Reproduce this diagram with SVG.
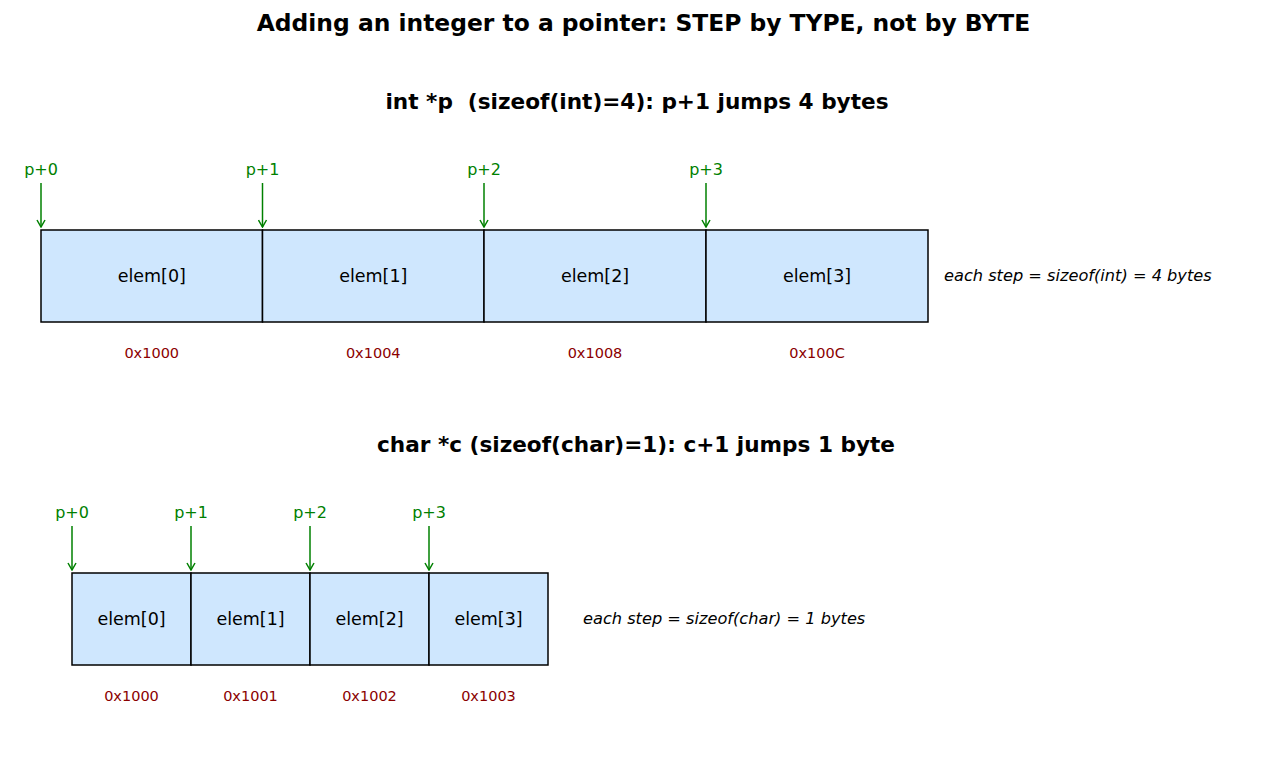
<svg xmlns="http://www.w3.org/2000/svg" width="1273" height="770" viewBox="0 0 1273 770">
<style>
text{font-family:"DejaVu Sans",sans-serif;}
.title{font-size:23.4px;font-weight:bold;fill:#000;text-anchor:middle;}
.sub{font-size:21.6px;font-weight:bold;fill:#000;text-anchor:middle;white-space:pre;}
.cell{fill:#cfe7fe;stroke:#000;stroke-width:1.5;}
.el{font-size:17.5px;fill:#000;text-anchor:middle;}
.ptr{font-size:16px;fill:#008000;text-anchor:middle;}
.addr{font-size:14.5px;fill:#8b0000;text-anchor:middle;}
.note{font-size:16.2px;font-style:italic;fill:#000;}
.arr{stroke:#008000;stroke-width:1.5;fill:none;marker-end:url(#ah);}
</style>
<defs>
<marker id="ah" markerWidth="10" markerHeight="10" refX="9" refY="5" orient="auto" markerUnits="userSpaceOnUse" viewBox="0 0 10 10">
<path d="M2,1 L9,5 L2,9" fill="none" stroke="#008000" stroke-width="1.5"/>
</marker>
</defs>
<rect width="1273" height="770" fill="#fff"/>
<text class="title" x="643.5" y="31">Adding an integer to a pointer: STEP by TYPE, not by BYTE</text>
<text class="sub" x="637" y="109" xml:space="preserve">int *p  (sizeof(int)=4): p+1 jumps 4 bytes</text>
<text class="sub" x="636" y="452">char *c (sizeof(char)=1): c+1 jumps 1 byte</text>

<g id="int-cell-0"><rect class="cell" x="41" y="230" width="221.5" height="92"/><text class="el" x="151.75" y="282">elem[0]</text><text class="addr" x="151.75" y="358">0x1000</text></g>
<g id="int-cell-1"><rect class="cell" x="262.5" y="230" width="221.5" height="92"/><text class="el" x="373.25" y="282">elem[1]</text><text class="addr" x="373.25" y="358">0x1004</text></g>
<g id="int-cell-2"><rect class="cell" x="484" y="230" width="222" height="92"/><text class="el" x="595" y="282">elem[2]</text><text class="addr" x="595" y="358">0x1008</text></g>
<g id="int-cell-3"><rect class="cell" x="706" y="230" width="222" height="92"/><text class="el" x="817" y="282">elem[3]</text><text class="addr" x="817" y="358">0x100C</text></g>
<g id="int-note"><text class="note" x="944" y="281">each step = sizeof(int) = 4 bytes</text></g>
<g id="int-ptrs">
<text class="ptr" x="41" y="175">p+0</text>
<text class="ptr" x="262.5" y="175">p+1</text>
<text class="ptr" x="484" y="175">p+2</text>
<text class="ptr" x="706" y="175">p+3</text>
</g>

<g id="char-cell-0"><rect class="cell" x="72" y="573" width="119" height="92"/><text class="el" x="131.5" y="625">elem[0]</text><text class="addr" x="131.5" y="701">0x1000</text></g>
<g id="char-cell-1"><rect class="cell" x="191" y="573" width="119" height="92"/><text class="el" x="250.5" y="625">elem[1]</text><text class="addr" x="250.5" y="701">0x1001</text></g>
<g id="char-cell-2"><rect class="cell" x="310" y="573" width="119" height="92"/><text class="el" x="369.5" y="625">elem[2]</text><text class="addr" x="369.5" y="701">0x1002</text></g>
<g id="char-cell-3"><rect class="cell" x="429" y="573" width="119" height="92"/><text class="el" x="488.5" y="625">elem[3]</text><text class="addr" x="488.5" y="701">0x1003</text></g>
<g id="char-note"><text class="note" x="583" y="624">each step = sizeof(char) = 1 bytes</text></g>
<g id="char-ptrs">
<text class="ptr" x="72" y="518">p+0</text>
<text class="ptr" x="191" y="518">p+1</text>
<text class="ptr" x="310" y="518">p+2</text>
<text class="ptr" x="429" y="518">p+3</text>
</g>

<g id="connectors">
<line class="arr" x1="41" y1="183" x2="41" y2="227"/>
<line class="arr" x1="262.5" y1="183" x2="262.5" y2="227"/>
<line class="arr" x1="484" y1="183" x2="484" y2="227"/>
<line class="arr" x1="706" y1="183" x2="706" y2="227"/>
<line class="arr" x1="72" y1="526" x2="72" y2="570"/>
<line class="arr" x1="191" y1="526" x2="191" y2="570"/>
<line class="arr" x1="310" y1="526" x2="310" y2="570"/>
<line class="arr" x1="429" y1="526" x2="429" y2="570"/>
</g>
</svg>
